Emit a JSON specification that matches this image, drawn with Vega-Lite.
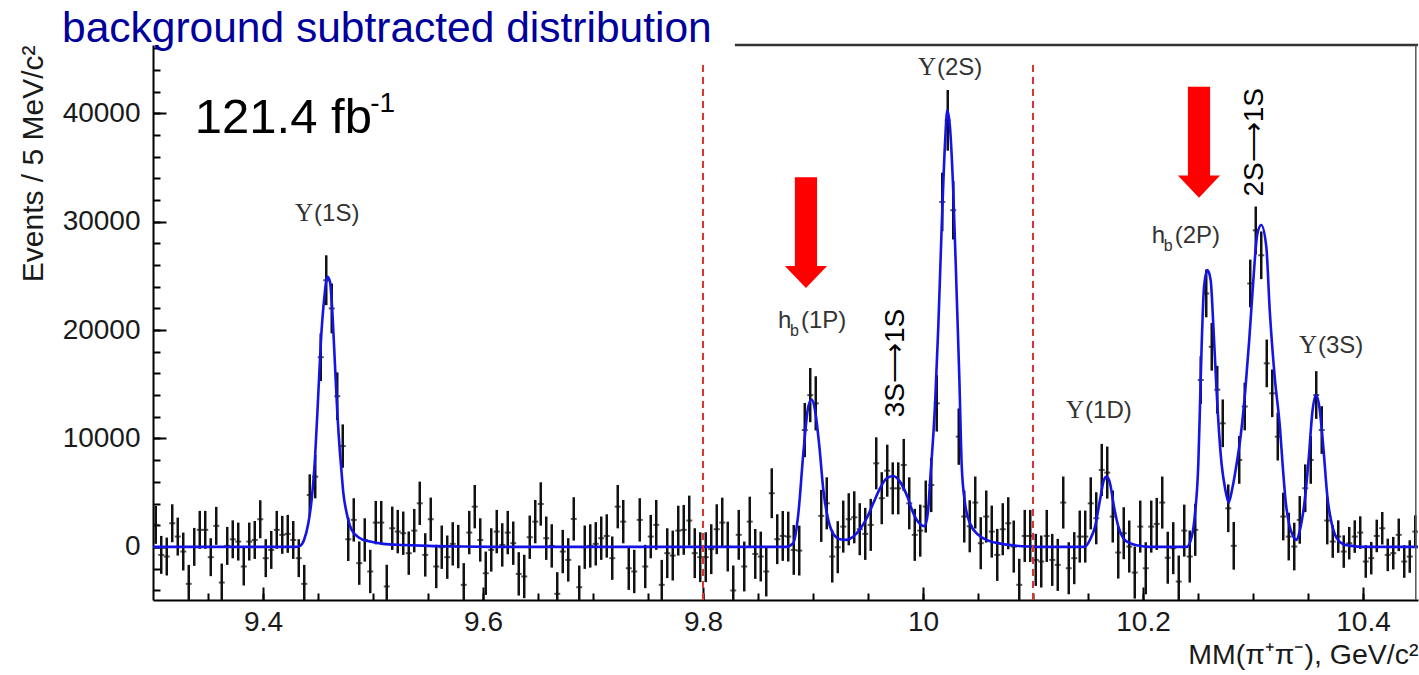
{
"$schema": "https://vega.github.io/schema/vega-lite/v6.json",
"width": 1265, "height": 555,
"autosize": {"type": "none"},
"padding": {"left": 153, "top": 45, "right": 1, "bottom": 75},
"background": "white",
"config": {"view": {"stroke": null}, "font": "Liberation Sans"},
"title": {"text": "background subtracted distribution", "anchor": "start", "frame": "group", "dx": -91, "offset": -7, "fontSize": 42.5, "font": "Liberation Sans", "fontWeight": "normal", "color": "#00009c"},
"datasets": {
"pts": [
{"m":9.3025,"n":2030,"e":1750},{"m":9.3075,"n":-740,"e":1750},{"m":9.3125,"n":-890,"e":1750},{"m":9.3175,"n":2180,"e":1750},{"m":9.3225,"n":950,"e":1750},{"m":9.3275,"n":-430,"e":1750},{"m":9.3325,"n":-3410,"e":1750},{"m":9.3375,"n":0,"e":1750},{"m":9.3425,"n":1570,"e":1750},{"m":9.3475,"n":1570,"e":1750},
{"m":9.3525,"n":-950,"e":1750},{"m":9.3575,"n":1940,"e":1750},{"m":9.3625,"n":-3290,"e":1750},{"m":9.3675,"n":90,"e":1750},{"m":9.3725,"n":700,"e":1750},{"m":9.3775,"n":490,"e":1750},{"m":9.3825,"n":-1810,"e":1750},{"m":9.3875,"n":490,"e":1750},{"m":9.3925,"n":640,"e":1750},{"m":9.3975,"n":2550,"e":1750},
{"m":9.4025,"n":-1040,"e":1750},{"m":9.4075,"n":-280,"e":1750},{"m":9.4125,"n":1570,"e":1750},{"m":9.4175,"n":1110,"e":1750},{"m":9.4225,"n":1200,"e":1750},{"m":9.4275,"n":640,"e":1750},{"m":9.4325,"n":-1040,"e":1750},{"m":9.4375,"n":-3410,"e":1750},{"m":9.4425,"n":4790,"e":1900},{"m":9.4475,"n":6480,"e":2000},
{"m":9.4525,"n":17500,"e":2200},{"m":9.4575,"n":24600,"e":2300},{"m":9.4625,"n":22000,"e":2300},{"m":9.4675,"n":13900,"e":2200},{"m":9.4725,"n":9300,"e":2000},{"m":9.4775,"n":700,"e":2000},{"m":9.4825,"n":2490,"e":2000},{"m":9.4875,"n":-1500,"e":2000},{"m":9.4925,"n":640,"e":2000},{"m":9.4975,"n":-2270,"e":2000},
{"m":9.5025,"n":2240,"e":2000},{"m":9.5075,"n":2240,"e":2000},{"m":9.5125,"n":-3650,"e":2000},{"m":9.5175,"n":1720,"e":2000},{"m":9.5225,"n":1410,"e":2000},{"m":9.5275,"n":1260,"e":2000},{"m":9.5325,"n":-580,"e":2000},{"m":9.5375,"n":1500,"e":2000},{"m":9.5425,"n":4020,"e":2000},{"m":9.5475,"n":-740,"e":2000},
{"m":9.5525,"n":2550,"e":2000},{"m":9.5575,"n":-1810,"e":2000},{"m":9.5625,"n":-30,"e":2000},{"m":9.5675,"n":-950,"e":2000},{"m":9.5725,"n":280,"e":2000},{"m":9.5775,"n":30,"e":2000},{"m":9.5825,"n":-3500,"e":2000},{"m":9.5875,"n":1320,"e":2000},{"m":9.5925,"n":3710,"e":2000},{"m":9.5975,"n":640,"e":2000},
{"m":9.6025,"n":-2430,"e":2000},{"m":9.6075,"n":-280,"e":2000},{"m":9.6125,"n":1410,"e":2000},{"m":9.6175,"n":180,"e":2000},{"m":9.6225,"n":1320,"e":2000},{"m":9.6275,"n":340,"e":2000},{"m":9.6325,"n":-2490,"e":2000},{"m":9.6375,"n":-2730,"e":2000},{"m":9.6425,"n":890,"e":2000},{"m":9.6475,"n":2330,"e":2000},
{"m":9.6525,"n":3960,"e":2000},{"m":9.6575,"n":800,"e":2000},{"m":9.6625,"n":90,"e":2000},{"m":9.6675,"n":-4330,"e":2000},{"m":9.6725,"n":-430,"e":2000},{"m":9.6775,"n":-1200,"e":2000},{"m":9.6825,"n":2580,"e":2000},{"m":9.6875,"n":-3720,"e":2000},{"m":9.6925,"n":-30,"e":2000},{"m":9.6975,"n":90,"e":2000},
{"m":9.7025,"n":280,"e":2000},{"m":9.7075,"n":800,"e":2000},{"m":9.7125,"n":1010,"e":2000},{"m":9.7175,"n":-1040,"e":2000},{"m":9.7225,"n":3710,"e":2000},{"m":9.7275,"n":2330,"e":2000},{"m":9.7325,"n":-1970,"e":2000},{"m":9.7375,"n":-2270,"e":2000},{"m":9.7425,"n":2490,"e":2000},{"m":9.7475,"n":-1810,"e":2000},
{"m":9.7525,"n":950,"e":2000},{"m":9.7575,"n":2030,"e":2300},{"m":9.7625,"n":-3500,"e":2300},{"m":9.7675,"n":-580,"e":2300},{"m":9.7725,"n":-800,"e":2300},{"m":9.7775,"n":1500,"e":2300},{"m":9.7825,"n":1570,"e":2300},{"m":9.7875,"n":2430,"e":2300},{"m":9.7925,"n":-580,"e":2300},{"m":9.7975,"n":-950,"e":2300},
{"m":9.8025,"n":-950,"e":2300},{"m":9.8075,"n":-210,"e":2300},{"m":9.8125,"n":1630,"e":2300},{"m":9.8175,"n":2240,"e":2300},{"m":9.8225,"n":30,"e":2300},{"m":9.8275,"n":-4020,"e":2300},{"m":9.8325,"n":1110,"e":2300},{"m":9.8375,"n":-1810,"e":2300},{"m":9.8425,"n":2330,"e":2300},{"m":9.8475,"n":-650,"e":2300},
{"m":9.8525,"n":-890,"e":2300},{"m":9.8575,"n":-2270,"e":2300},{"m":9.8625,"n":4950,"e":2300},{"m":9.8675,"n":710,"e":2300},{"m":9.8725,"n":1010,"e":2300},{"m":9.8775,"n":950,"e":2300},{"m":9.8825,"n":-280,"e":2300},{"m":9.8875,"n":-340,"e":2300},{"m":9.8925,"n":10780,"e":2500},{"m":9.8975,"n":14000,"e":2500},
{"m":9.9025,"n":13240,"e":2500},{"m":9.9075,"n":2860,"e":2400},{"m":9.9125,"n":4020,"e":2400},{"m":9.9175,"n":-890,"e":2400},{"m":9.9225,"n":-30,"e":2400},{"m":9.9275,"n":1870,"e":2400},{"m":9.9325,"n":2550,"e":2400},{"m":9.9375,"n":2730,"e":2400},{"m":9.9425,"n":1630,"e":2400},{"m":9.9475,"n":1200,"e":2400},
{"m":9.9525,"n":2030,"e":2400},{"m":9.9575,"n":7710,"e":2400},{"m":9.9625,"n":4490,"e":2400},{"m":9.9675,"n":7030,"e":2400},{"m":9.9725,"n":5400,"e":2400},{"m":9.9775,"n":5400,"e":2400},{"m":9.9825,"n":7560,"e":2400},{"m":9.9875,"n":4020,"e":2400},{"m":9.9925,"n":1110,"e":2400},{"m":9.9975,"n":1500,"e":2400},
{"m":10.0025,"n":3720,"e":2400},{"m":10.0075,"n":5710,"e":2500},{"m":10.0125,"n":13240,"e":2600},{"m":10.0175,"n":31820,"e":2700},{"m":10.0225,"n":39350,"e":2800},{"m":10.0275,"n":31060,"e":2700},{"m":10.0325,"n":10170,"e":2600},{"m":10.0375,"n":2800,"e":2400},{"m":10.0425,"n":1900,"e":2400},{"m":10.0475,"n":4090,"e":2400},
{"m":10.0525,"n":340,"e":2400},{"m":10.0575,"n":2800,"e":2400},{"m":10.0625,"n":1410,"e":2400},{"m":10.0675,"n":-740,"e":2400},{"m":10.0725,"n":1630,"e":2400},{"m":10.0775,"n":2180,"e":2400},{"m":10.0825,"n":30,"e":2400},{"m":10.0875,"n":-3500,"e":2400},{"m":10.0925,"n":1010,"e":2400},{"m":10.0975,"n":1010,"e":2400},
{"m":10.1025,"n":-1200,"e":2400},{"m":10.1075,"n":-1350,"e":2400},{"m":10.1125,"n":1010,"e":2400},{"m":10.1175,"n":-1200,"e":2400},{"m":10.1225,"n":-1660,"e":2400},{"m":10.1275,"n":4090,"e":2400},{"m":10.1325,"n":-1970,"e":2400},{"m":10.1375,"n":-1040,"e":2400},{"m":10.1425,"n":950,"e":2400},{"m":10.1475,"n":950,"e":2400},
{"m":10.1525,"n":4020,"e":2400},{"m":10.1575,"n":2640,"e":2400},{"m":10.1625,"n":7100,"e":2400},{"m":10.1675,"n":6850,"e":2400},{"m":10.1725,"n":2800,"e":2400},{"m":10.1775,"n":-520,"e":2400},{"m":10.1825,"n":1260,"e":2400},{"m":10.1875,"n":30,"e":2400},{"m":10.1925,"n":-2370,"e":2400},{"m":10.1975,"n":1870,"e":2400},
{"m":10.2025,"n":-1970,"e":2400},{"m":10.2075,"n":1870,"e":2400},{"m":10.2125,"n":2120,"e":2400},{"m":10.2175,"n":4090,"e":2400},{"m":10.2225,"n":-1000,"e":2400},{"m":10.2275,"n":-120,"e":2400},{"m":10.2325,"n":-3200,"e":2400},{"m":10.2375,"n":1500,"e":2400},{"m":10.2425,"n":-890,"e":2400},{"m":10.2475,"n":1570,"e":2400},
{"m":10.2525,"n":15390,"e":2200},{"m":10.2575,"n":23380,"e":2200},{"m":10.2625,"n":18460,"e":2200},{"m":10.2675,"n":14500,"e":2200},{"m":10.2725,"n":11400,"e":2200},{"m":10.2775,"n":3560,"e":2200},{"m":10.2825,"n":100,"e":2200},{"m":10.2875,"n":8020,"e":2200},{"m":10.2925,"n":12950,"e":2200},{"m":10.2975,"n":24300,"e":2200},
{"m":10.3025,"n":29200,"e":2200},{"m":10.3075,"n":26900,"e":2200},{"m":10.3125,"n":16930,"e":2200},{"m":10.3175,"n":14170,"e":2200},{"m":10.3225,"n":10170,"e":2200},{"m":10.3275,"n":2800,"e":2200},{"m":10.3325,"n":950,"e":2200},{"m":10.3375,"n":30,"e":2200},{"m":10.3425,"n":2490,"e":2200},{"m":10.3475,"n":5410,"e":2200},
{"m":10.3525,"n":8020,"e":2200},{"m":10.3575,"n":14010,"e":2200},{"m":10.3625,"n":10780,"e":2200},{"m":10.3675,"n":2430,"e":2200},{"m":10.3725,"n":490,"e":1500},{"m":10.3775,"n":950,"e":1500},{"m":10.3825,"n":-430,"e":1500},{"m":10.3875,"n":340,"e":1500},{"m":10.3925,"n":950,"e":1500},{"m":10.3975,"n":1320,"e":1500},
{"m":10.4025,"n":-1350,"e":1500},{"m":10.4075,"n":-1040,"e":1500},{"m":10.4125,"n":1010,"e":1500},{"m":10.4175,"n":1720,"e":1500},{"m":10.4225,"n":-740,"e":1500},{"m":10.4275,"n":-580,"e":1500},{"m":10.4325,"n":1110,"e":1500},{"m":10.4375,"n":-1350,"e":1500},{"m":10.4425,"n":-890,"e":1500},{"m":10.4475,"n":1410,"e":1500}
],
"fit": [
{"m":9.3,"f":0},{"m":9.43,"f":0},{"m":9.4336,"f":90},{"m":9.4373,"f":640},{"m":9.4412,"f":2180},{"m":9.4442,"f":4330},{"m":9.4473,"f":8200},{"m":9.4503,"f":14170},{"m":9.4527,"f":19080},{"m":9.4555,"f":22760},{"m":9.4585,"f":24910},{"m":9.4609,"f":24450},{"m":9.4633,"f":21230},{"m":9.4655,"f":16620},{"m":9.4676,"f":12320},{"m":9.47,"f":8630},{"m":9.4715,"f":6790},{"m":9.473,"f":5000},{"m":9.4761,"f":3100},{"m":9.4806,"f":1570},{"m":9.4882,"f":800},{"m":9.4973,"f":490},{"m":9.5094,"f":280},{"m":9.5276,"f":180},{"m":9.55,"f":90},{"m":9.58,"f":30},{"m":9.62,"f":0},
{"m":9.876,"f":0},{"m":9.882,"f":340},{"m":9.8867,"f":3100},{"m":9.8912,"f":8630},{"m":9.8957,"f":12930},{"m":9.8988,"f":13600},{"m":9.9018,"f":12630},{"m":9.9058,"f":9250},{"m":9.9094,"f":5250},{"m":9.9139,"f":2490},{"m":9.9185,"f":1200},{"m":9.9245,"f":710},{"m":9.9306,"f":650},{"m":9.9367,"f":950},{"m":9.9427,"f":1630},{"m":9.9488,"f":2640},{"m":9.9548,"f":4020},{"m":9.9609,"f":5400},{"m":9.967,"f":6330},{"m":9.973,"f":6540},{"m":9.979,"f":6020},{"m":9.9852,"f":4790},{"m":9.9912,"f":3100},{"m":9.9973,"f":2100},{"m":10.0015,"f":1900},{"m":10.0045,"f":3200},{"m":10.0064,"f":6000},{"m":10.011,"f":13240},{"m":10.0139,"f":20300},{"m":10.017,"f":29520},{"m":10.02,"f":37200},{"m":10.0221,"f":40280},{"m":10.0245,"f":38740},{"m":10.0276,"f":32600},{"m":10.0306,"f":23380},{"m":10.033,"f":15700},{"m":10.0352,"f":7500},{"m":10.0382,"f":4020},{"m":10.0427,"f":2180},{"m":10.0503,"f":1110},{"m":10.0594,"f":580},{"m":10.0715,"f":280},{"m":10.0836,"f":120},{"m":10.096,"f":30},{"m":10.105,"f":0},
{"m":10.147,"f":0},{"m":10.1518,"f":650},{"m":10.1564,"f":1870},{"m":10.1609,"f":4330},{"m":10.1645,"f":6170},{"m":10.167,"f":6480},{"m":10.17,"f":5870},{"m":10.1736,"f":3720},{"m":10.1776,"f":1870},{"m":10.1821,"f":800},{"m":10.1882,"f":340},{"m":10.1958,"f":120},{"m":10.205,"f":0},
{"m":10.2397,"f":0},{"m":10.2443,"f":950},{"m":10.2473,"f":3100},{"m":10.2503,"f":7710},{"m":10.2518,"f":13000},{"m":10.2533,"f":18500},{"m":10.2555,"f":23990},{"m":10.2585,"f":25530},{"m":10.2615,"f":24610},{"m":10.264,"f":20300},{"m":10.2664,"f":15390},{"m":10.2694,"f":10170},{"m":10.2715,"f":7600},{"m":10.2748,"f":5300},{"m":10.2779,"f":4090},{"m":10.2809,"f":5250},{"m":10.2852,"f":7710},{"m":10.2891,"f":10500},{"m":10.293,"f":14470},{"m":10.2965,"f":19000},{"m":10.2995,"f":23400},{"m":10.304,"f":28900},{"m":10.3075,"f":29700},{"m":10.3121,"f":27680},{"m":10.3152,"f":21840},{"m":10.3197,"f":15700},{"m":10.3245,"f":11000},{"m":10.327,"f":7500},{"m":10.33,"f":3900},{"m":10.3321,"f":2490},{"m":10.3367,"f":950},{"m":10.3397,"f":650},{"m":10.3427,"f":1570},{"m":10.3467,"f":4020},{"m":10.3503,"f":7710},{"m":10.3542,"f":12630},{"m":10.3573,"f":14010},{"m":10.3603,"f":12930},{"m":10.3639,"f":9250},{"m":10.3676,"f":4640},{"m":10.3715,"f":2180},{"m":10.3761,"f":800},{"m":10.3821,"f":250},{"m":10.3897,"f":90},{"m":10.4,"f":0},{"m":10.45,"f":0}
],
"ups": [{"m":9.4455,"n":30050,"a":"Υ","b":"(1S)"},{"m":10.0118,"n":43500,"a":"Υ","b":"(2S)"},{"m":10.1464,"n":11890,"a":"Υ","b":"(1D)"},{"m":10.3582,"n":17880,"a":"Υ","b":"(3S)"}],
"hb": [{"m":9.8682,"n":20180,"c":"(1P)"},{"m":10.2079,"n":27990,"c":"(2P)"}],
"tr": [{"m":9.9755,"n":16960,"t":"3S⟶1S"},{"m":10.3018,"n":37330,"t":"2S⟶1S"}],
"arr": [{"m":9.8936,"n":28990},{"m":10.2509,"n":37330}],
"vl": [{"m":9.8},{"m":10.1}]
},
"layer": [
{"data": {"name": "pts"},
 "mark": {"type": "errorbar", "thickness": 2.5, "color": "#111111", "clip": true},
 "encoding": {
  "x": {"field": "m", "type": "quantitative", "scale": {"domain": [9.3, 10.45], "nice": false, "zero": false},
        "axis": {"orient": "bottom", "values": [9.4, 9.6, 9.8, 10, 10.2, 10.4], "format": "~g", "ticks": false, "domain": true, "domainColor": "#000000", "domainWidth": 2, "grid": false, "labelFont": "Liberation Sans", "labelFontSize": 28, "labelColor": "#1a1a1a", "labelPadding": 8, "labelOverlap": false, "title": "MM(π⁺π⁻), GeV/c²", "titleFont": "Liberation Sans", "titleFontSize": 28.5, "titleFontWeight": "normal", "titleColor": "#1a1a1a", "titleAnchor": "end", "titlePadding": 4}},
  "y": {"field": "n", "type": "quantitative", "scale": {"domain": [-4900, 46300], "nice": false, "zero": false},
        "axis": {"orient": "left", "values": [0, 10000, 20000, 30000, 40000], "format": "d", "ticks": false, "domain": true, "domainColor": "#000000", "domainWidth": 2, "grid": false, "labelFont": "Liberation Sans", "labelFontSize": 28, "labelColor": "#1a1a1a", "labelPadding": 13, "labelOverlap": false, "title": "Events / 5 MeV/c²", "titleFont": "Liberation Sans", "titleFontSize": 30, "titleFontWeight": "normal", "titleColor": "#1a1a1a", "titleAnchor": "end", "titlePadding": 14}},
  "yError": {"field": "e"}
 }},
{"data": {"name": "pts"},
 "mark": {"type": "tick", "orient": "horizontal", "size": 6, "thickness": 2, "color": "#111111", "clip": true},
 "encoding": {
  "x": {"field": "m", "type": "quantitative", "axis": {"orient": "bottom", "values": [9.4, 9.6, 9.8, 10, 10.2, 10.4], "labels": false, "domain": false, "grid": false, "ticks": true, "tickSize": -13, "tickWidth": 2, "tickColor": "#000000", "title": null}},
  "y": {"field": "n", "type": "quantitative", "axis": {"orient": "left", "values": [0, 10000, 20000, 30000, 40000], "labels": false, "domain": false, "grid": false, "ticks": true, "tickSize": -13, "tickWidth": 2, "tickColor": "#000000", "title": null}}
 }},
{"data": {"name": "fit"},
 "mark": {"type": "line", "color": "#1414e6", "strokeWidth": 2.6, "interpolate": "monotone", "clip": true},
 "encoding": {
  "x": {"field": "m", "type": "quantitative", "axis": {"orient": "bottom", "values": [9.35, 9.4, 9.45, 9.5, 9.55, 9.6, 9.65, 9.7, 9.75, 9.8, 9.85, 9.9, 9.95, 10, 10.05, 10.1, 10.15, 10.2, 10.25, 10.3, 10.35, 10.4], "labels": false, "domain": false, "grid": false, "ticks": true, "tickSize": -7, "tickWidth": 2, "tickColor": "#000000", "title": null}},
  "y": {"field": "f", "type": "quantitative", "axis": {"orient": "left", "values": [-4000, -2000, 0, 2000, 4000, 6000, 8000, 10000, 12000, 14000, 16000, 18000, 20000, 22000, 24000, 26000, 28000, 30000, 32000, 34000, 36000, 38000, 40000, 42000, 44000, 46000], "labels": false, "domain": false, "grid": false, "ticks": true, "tickSize": -7, "tickWidth": 2, "tickColor": "#000000", "title": null}}
 }},
{"data": {"name": "vl"},
 "mark": {"type": "rule", "color": "#dd3333", "strokeWidth": 2, "strokeDash": [7, 5]},
 "encoding": {
  "x": {"field": "m", "type": "quantitative", "axis": null},
  "y": {"datum": -4900, "type": "quantitative", "axis": null},
  "y2": {"datum": 44600}
 }},
{"data": {"values": [{}]},
 "mark": {"type": "rule", "color": "#333333", "strokeWidth": 2.5},
 "encoding": {
  "x": {"datum": 9.829, "type": "quantitative", "axis": null},
  "x2": {"datum": 10.45},
  "y": {"datum": 46300, "type": "quantitative", "axis": null}
 }},
{"data": {"values": [{}]},
 "mark": {"type": "rule", "color": "#555555", "strokeWidth": 1.5},
 "encoding": {
  "x": {"datum": 10.448, "type": "quantitative", "axis": null},
  "y": {"datum": -4900, "type": "quantitative", "axis": null},
  "y2": {"datum": 46300}
 }},
{"data": {"name": "arr"},
 "mark": {"type": "point", "shape": "M-0.2,-1L0.2,-1L0.2,0.6L0.38,0.6L0,1L-0.38,0.6L-0.2,0.6Z", "filled": true, "size": 12300, "color": "#ff0000", "opacity": 1, "strokeWidth": 0},
 "encoding": {
  "x": {"field": "m", "type": "quantitative", "axis": null},
  "y": {"field": "n", "type": "quantitative", "axis": null}
 }},
{"data": {"name": "ups"},
 "mark": {"type": "text", "align": "right", "baseline": "alphabetic", "font": "Liberation Serif", "fontSize": 25, "color": "#333333"},
 "encoding": {
  "x": {"field": "m", "type": "quantitative", "axis": null},
  "y": {"field": "n", "type": "quantitative", "axis": null},
  "text": {"field": "a"}
 }},
{"data": {"name": "ups"},
 "mark": {"type": "text", "align": "left", "baseline": "alphabetic", "font": "Liberation Sans", "fontSize": 24, "color": "#333333", "dx": 1},
 "encoding": {
  "x": {"field": "m", "type": "quantitative", "axis": null},
  "y": {"field": "n", "type": "quantitative", "axis": null},
  "text": {"field": "b"}
 }},
{"data": {"name": "hb"},
 "mark": {"type": "text", "align": "left", "baseline": "alphabetic", "font": "Liberation Sans", "fontSize": 24, "color": "#333333"},
 "encoding": {
  "x": {"field": "m", "type": "quantitative", "axis": null},
  "y": {"field": "n", "type": "quantitative", "axis": null},
  "text": {"value": "h"}
 }},
{"data": {"name": "hb"},
 "mark": {"type": "text", "align": "left", "baseline": "alphabetic", "font": "Liberation Sans", "fontSize": 16, "color": "#333333", "dx": 12, "dy": 8},
 "encoding": {
  "x": {"field": "m", "type": "quantitative", "axis": null},
  "y": {"field": "n", "type": "quantitative", "axis": null},
  "text": {"value": "b"}
 }},
{"data": {"name": "hb"},
 "mark": {"type": "text", "align": "left", "baseline": "alphabetic", "font": "Liberation Sans", "fontSize": 24, "color": "#333333", "dx": 23},
 "encoding": {
  "x": {"field": "m", "type": "quantitative", "axis": null},
  "y": {"field": "n", "type": "quantitative", "axis": null},
  "text": {"field": "c"}
 }},
{"data": {"name": "tr"},
 "mark": {"type": "text", "align": "center", "baseline": "middle", "angle": 270, "font": "Liberation Sans", "fontSize": 28, "color": "#000000"},
 "encoding": {
  "x": {"field": "m", "type": "quantitative", "axis": null},
  "y": {"field": "n", "type": "quantitative", "axis": null},
  "text": {"field": "t"}
 }},
{"data": {"values": [{}]},
 "mark": {"type": "text", "align": "left", "baseline": "alphabetic", "font": "Liberation Sans", "fontSize": 49, "color": "#000000"},
 "encoding": {
  "x": {"datum": 9.338, "type": "quantitative", "axis": null},
  "y": {"datum": 38160, "type": "quantitative", "axis": null},
  "text": {"value": "121.4 fb"}
 }},
{"data": {"values": [{}]},
 "mark": {"type": "text", "align": "left", "baseline": "alphabetic", "font": "Liberation Sans", "fontSize": 28, "color": "#000000"},
 "encoding": {
  "x": {"datum": 9.4975, "type": "quantitative", "axis": null},
  "y": {"datum": 40090, "type": "quantitative", "axis": null},
  "text": {"value": "-1"}
 }}
],
"resolve": {"axis": {"x": "independent", "y": "independent"}}
}
